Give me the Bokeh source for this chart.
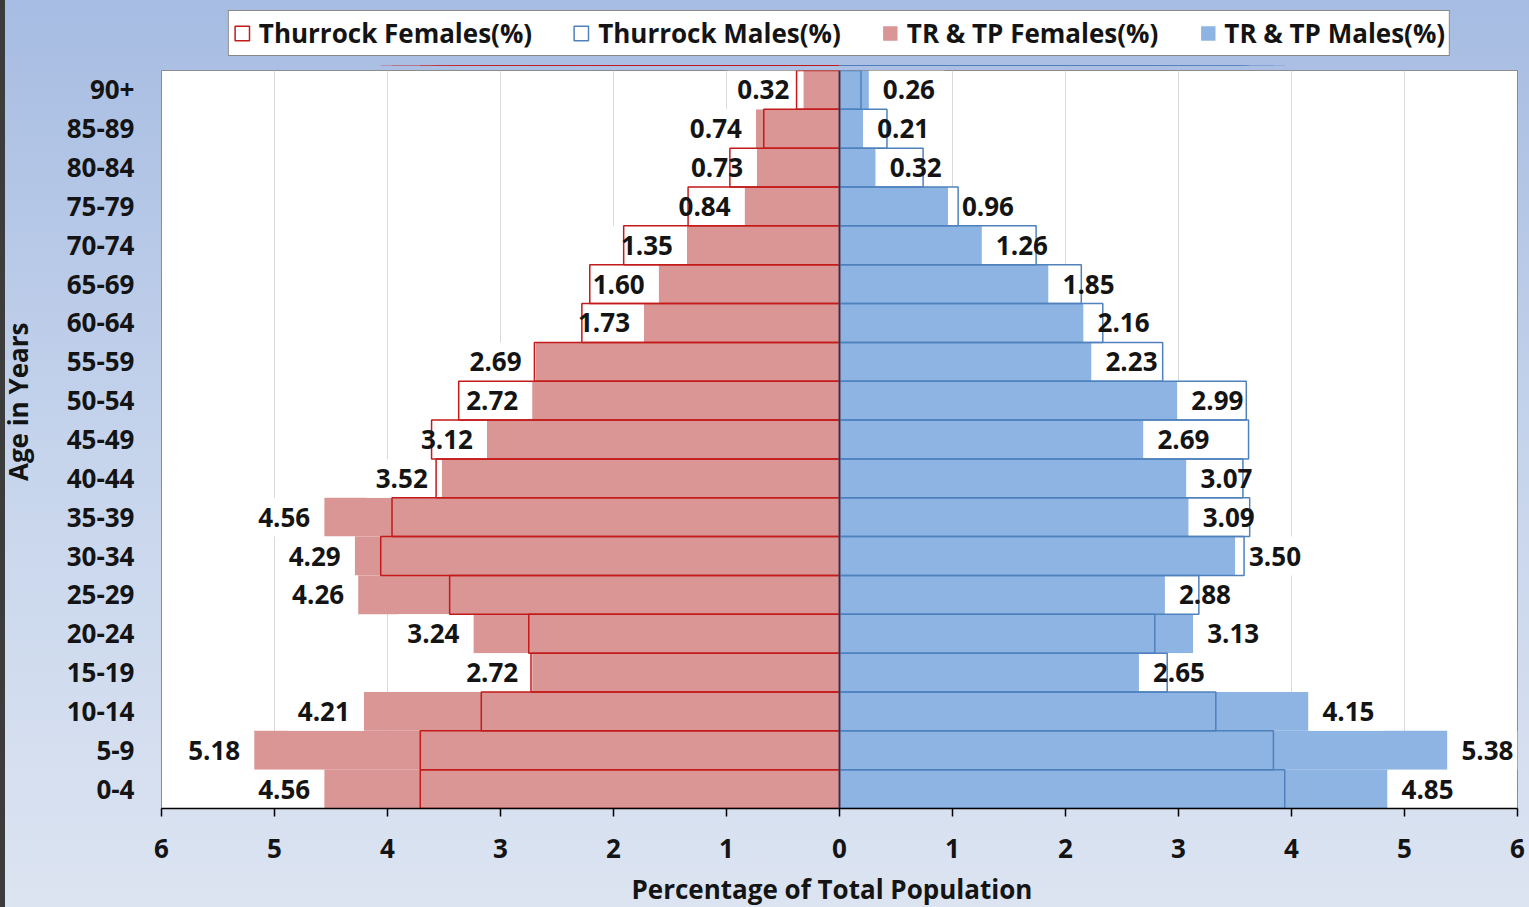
import math
from bokeh.plotting import figure
from bokeh.layouts import column, row
from bokeh.models import Range1d, FixedTicker, Legend, LegendItem, Title, Span, Label
from bokeh.core.properties import value
from bokeh.embed import file_html
from bokeh.resources import INLINE

ages = ["0-4", "5-9", "10-14", "15-19", "20-24", "25-29", "30-34", "35-39", "40-44",
        "45-49", "50-54", "55-59", "60-64", "65-69", "70-74", "75-79", "80-84", "85-89", "90+"]
trtp_females = [4.56, 5.18, 4.21, 2.72, 3.24, 4.26, 4.29, 4.56, 3.52, 3.12, 2.72, 2.69,
                1.73, 1.60, 1.35, 0.84, 0.73, 0.74, 0.32]
trtp_males = [4.85, 5.38, 4.15, 2.65, 3.13, 2.88, 3.50, 3.09, 3.07, 2.69, 2.99, 2.23,
              2.16, 1.85, 1.26, 0.96, 0.32, 0.21, 0.26]
thurrock_females = [3.71, 3.71, 3.17, 2.73, 2.75, 3.45, 4.06, 3.96, 3.57, 3.61, 3.37, 2.70,
                    2.28, 2.21, 1.91, 1.34, 0.97, 0.67, 0.38]
thurrock_males = [3.94, 3.84, 3.33, 2.90, 2.79, 3.18, 3.58, 3.63, 3.57, 3.62, 3.60, 2.86,
                  2.33, 2.14, 1.74, 1.05, 0.74, 0.42, 0.19]
x_ticks = [-6, -5, -4, -3, -2, -1, 0, 1, 2, 3, 4, 5, 6]
series_names = ["Thurrock Females(%)", "Thurrock Males(%)", "TR & TP Females(%)", "TR & TP Males(%)"]
y_title = "Age in Years"
x_title = "Percentage of Total Population"

FONT = value("Open Sans")
FS = "26px"
TXT = "#141414"
F_FILL = "#DA9694"
M_FILL = "#8DB4E2"
F_LINE = "#C41A1A"
M_LINE = "#4F81BD"
BOXW = 0.67  # label box width in data units

ys = list(range(len(ages)))

css = None
try:
    from bokeh.models import GlobalInlineStyleSheet
    css = GlobalInlineStyleSheet(css=(
        "html{height:100%;overflow:hidden;"
        "background:linear-gradient(to right,#3C3C3C 0px,#3C3C3C 5px,rgba(0,0,0,0) 5px),"
        "linear-gradient(to bottom,#A6BCE2 0%,#C6D4EC 50%,#DCE4F1 100%);}"
        "body{margin:0;overflow:hidden;background:transparent;}"))
except Exception:
    css = None


def draw_series(fig):
    r_ff = fig.hbar(y=ys, left=[-v for v in trtp_females], right=0, height=1,
                    fill_color=F_FILL, line_color=None)
    r_mf = fig.hbar(y=ys, left=0, right=trtp_males, height=1,
                    fill_color=M_FILL, line_color=None)
    return r_ff, r_mf


def draw_outlines(fig):
    r_tf = fig.hbar(y=ys, left=[-v for v in thurrock_females], right=0, height=1,
                    fill_color=None, line_color=F_LINE, line_width=1.5)
    r_tm = fig.hbar(y=ys, left=0, right=thurrock_males, height=1,
                    fill_color=None, line_color=M_LINE, line_width=1.5)
    return r_tf, r_tm


def bare(fig):
    fig.axis.visible = False
    fig.grid.visible = False
    fig.outline_line_color = None
    fig.background_fill_color = None
    fig.border_fill_color = None


MAIN_H = 843

# ---------------- legend strip (top) ----------------
pl = figure(width=1529, height=66, x_range=Range1d(-6, 6), y_range=Range1d(100, 101),
            output_backend="svg", toolbar_location=None, title=None,
            min_border_left=161, min_border_right=12, min_border_top=0, min_border_bottom=0)
bare(pl)
lf_ff, lf_mf = draw_series(pl)
lf_tf, lf_tm = draw_outlines(pl)
legend = Legend(items=[
    LegendItem(label=series_names[0], renderers=[lf_tf]),
    LegendItem(label=series_names[1], renderers=[lf_tm]),
    LegendItem(label=series_names[2], renderers=[lf_ff]),
    LegendItem(label=series_names[3], renderers=[lf_mf]),
], orientation="horizontal", location="center")
legend.label_text_font = "Open Sans"
legend.label_text_font_size = FS
legend.label_text_font_style = "bold"
legend.label_text_color = TXT
legend.glyph_width = 18
legend.glyph_height = 18
legend.label_standoff = 8
legend.spacing = 40
legend.padding = 4
legend.margin = 0
legend.border_line_color = "#111111"
legend.border_line_width = 1.5
legend.background_fill_color = "white"
legend.background_fill_alpha = 1
pl.add_layout(legend, "center")

# ---------------- y title strip (left) ----------------
pt = figure(width=40, height=MAIN_H, x_range=Range1d(0, 40), y_range=Range1d(0, MAIN_H),
            output_backend="svg", toolbar_location=None, title=None,
            min_border_left=0, min_border_right=0, min_border_top=0, min_border_bottom=0)
bare(pt)
pt.add_layout(Label(x=17.5, y=462, text=y_title, angle=math.pi / 2,
                    text_align="center", text_baseline="middle",
                    text_font="Open Sans", text_font_size=FS, text_font_style="bold",
                    text_color=TXT))

# ---------------- main chart ----------------
p = figure(frame_width=1356, frame_height=738, x_range=Range1d(-6, 6), y_range=Range1d(-0.5, 18.5),
           output_backend="svg", toolbar_location=None, title=None,
           min_border_left=121, min_border_right=12, min_border_top=4, min_border_bottom=MAIN_H - 742)
p.background_fill_color = "white"
p.border_fill_color = None
p.outline_line_color = "#8C8C8C"
p.outline_line_width = 1

draw_series(p)
# white label boxes
p.hbar(y=ys, left=[-v - BOXW for v in trtp_females], right=[-v for v in trtp_females],
       height=1, fill_color="white", line_color=None)
p.hbar(y=ys, left=trtp_males, right=[v + BOXW for v in trtp_males],
       height=1, fill_color="white", line_color=None)
draw_outlines(p)

# data labels
p.text(x=[-v for v in trtp_females], y=ys, text=[f"{v:.2f}" for v in trtp_females],
       x_offset=-40, text_align="center", text_baseline="middle",
       text_font=FONT, text_font_size=FS, text_font_style="bold", text_color=TXT)
p.text(x=trtp_males, y=ys, text=[f"{v:.2f}" for v in trtp_males],
       x_offset=40, text_align="center", text_baseline="middle",
       text_font=FONT, text_font_size=FS, text_font_style="bold", text_color=TXT)

p.add_layout(Span(location=0, dimension="height", line_color="#2E3440", line_width=1.5))

# axes
p.xaxis.ticker = FixedTicker(ticks=x_ticks)
p.xaxis.major_label_overrides = {t: str(abs(t)) for t in x_ticks}
p.xaxis.major_tick_out = 8
p.xaxis.major_tick_in = 0
p.xaxis.minor_tick_out = 0
p.xaxis.minor_tick_in = 0
p.xaxis.axis_line_color = "black"
p.xaxis.axis_line_width = 1.5
p.xaxis.major_tick_line_color = "black"
p.xaxis.major_tick_line_width = 1.5
p.xaxis.major_label_standoff = 22
p.xaxis.major_label_text_font = "Open Sans"
p.xaxis.major_label_text_font_size = FS
p.xaxis.major_label_text_font_style = "bold"
p.xaxis.major_label_text_color = TXT

p.yaxis.ticker = FixedTicker(ticks=ys)
p.yaxis.major_label_overrides = {i: a for i, a in zip(ys, ages)}
p.yaxis.axis_line_color = None
p.yaxis.major_tick_line_color = None
p.yaxis.minor_tick_line_color = None
p.yaxis.major_label_standoff = 21
p.yaxis.major_label_text_font = "Open Sans"
p.yaxis.major_label_text_font_size = FS
p.yaxis.major_label_text_font_style = "bold"
p.yaxis.major_label_text_color = TXT

p.xgrid.ticker = FixedTicker(ticks=x_ticks)
p.xgrid.grid_line_color = "#D9D9D9"
p.xgrid.grid_line_width = 1
p.ygrid.grid_line_color = None

xtitle = Title(text=x_title, align="left", offset=470, standoff=16,
               text_font="Open Sans", text_font_size=FS, text_font_style="bold",
               text_color=TXT)
p.add_layout(xtitle, "below")

layout = column(pl, row(pt, p, spacing=0), spacing=0)
if css is not None:
    layout.stylesheets = [css]

open("out.html", "w").write(file_html(layout, INLINE))
